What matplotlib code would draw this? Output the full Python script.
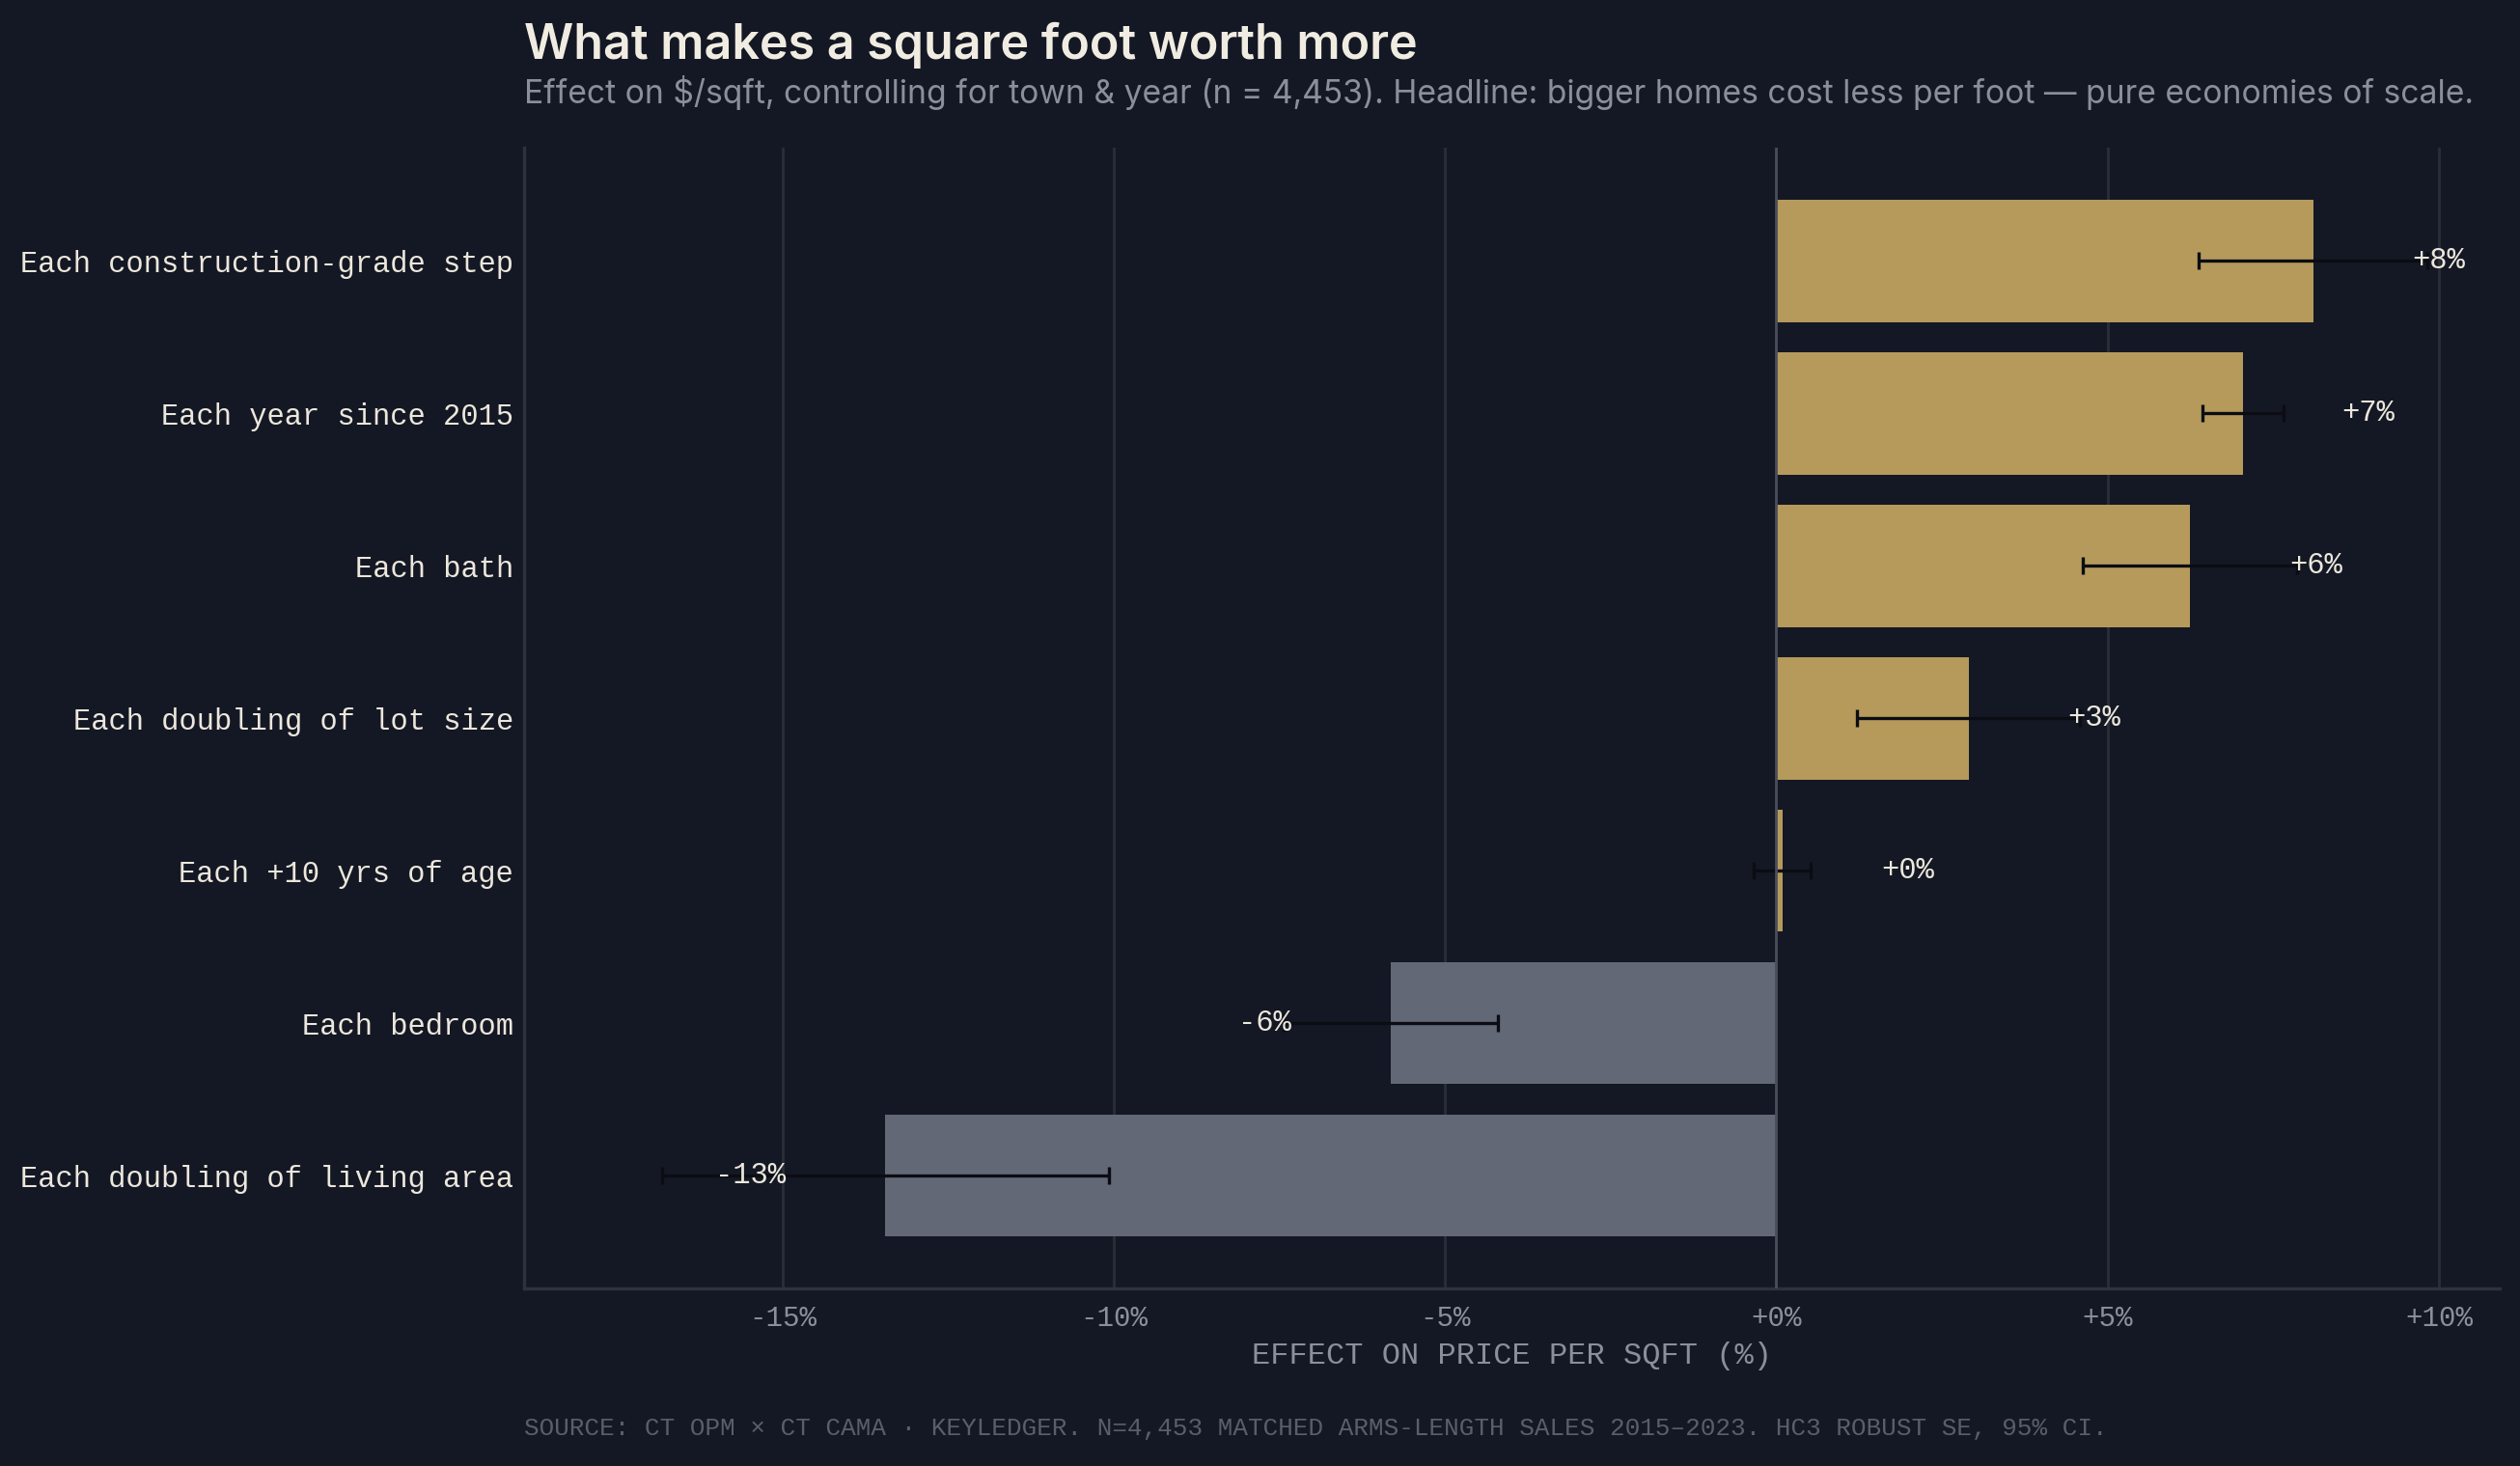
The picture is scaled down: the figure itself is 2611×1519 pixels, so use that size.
import matplotlib
matplotlib.use("Agg")
import matplotlib.pyplot as plt
from matplotlib.ticker import FuncFormatter

# datos (de arriba hacia abajo)
factors = ["Each construction-grade step", "Each year since 2015", "Each bath",
           "Each doubling of lot size", "Each +10 yrs of age", "Each bedroom",
           "Each doubling of living area"]
effect = [8.1, 7.04, 6.24, 2.9, 0.09, -5.82, -13.45]
ci_half = [1.72, 0.61, 1.62, 1.68, 0.43, 1.62, 3.37]
tick_vals = [-15, -10, -5, 0, 5, 10]

BG = "#141824"
GOLD = "#b59a5b"
SLATE = "#636877"
TXT = "#ece7dc"
MUTED = "#8b8f9c"
GRID = "#2a2e39"
MONO = "Liberation Mono"

fig = plt.figure(figsize=(13.055, 7.595), dpi=200, facecolor=BG)
ax = fig.add_axes([0.208, 0.121, 0.784, 0.778], facecolor=BG)

ypos = list(range(len(factors)))
colors = [GOLD if v >= 0 else SLATE for v in effect]

ax.barh(ypos, effect, height=0.8, color=colors, zorder=2)
ax.errorbar(effect, ypos, xerr=ci_half, fmt="none", ecolor="#0b0d13",
            elinewidth=1.2, capsize=3.4, capthick=1.2, zorder=3)

for y, v in zip(ypos, effect):
    lab = f"{v:+.0f}%"
    if v >= 0:
        ax.text(v + 1.5, y, lab, ha="left", va="center", color=TXT,
                fontsize=11, family=MONO, zorder=4)
    else:
        ax.text(v - 1.5, y, lab, ha="right", va="center", color=TXT,
                fontsize=11, family=MONO, zorder=4)

ax.set_xlim(-18.9, 10.92)
ax.invert_yaxis()
ax.set_yticks(ypos)
ax.set_yticklabels(factors, family=MONO, fontsize=11, color=TXT)
ax.set_xticks(tick_vals)
ax.xaxis.set_major_formatter(FuncFormatter(lambda x, p: f"{x:+.0f}%"))
for t in ax.get_xticklabels():
    t.set_family(MONO)
ax.tick_params(axis="x", length=0, pad=6, labelsize=10.5, labelcolor=MUTED)
ax.tick_params(axis="y", length=0, pad=4)

for t in tick_vals:
    ax.axvline(t, color="#4a4e5a" if t == 0 else GRID, lw=1.0, zorder=1 if t else 3)

for s in ["top", "right"]:
    ax.spines[s].set_visible(False)
for s in ["left", "bottom"]:
    ax.spines[s].set_color("#2e323d")
    ax.spines[s].set_linewidth(1.2)

fig.text(0.208, 0.96, "What makes a square foot worth more", family="Inter",
         fontsize=18.1, fontweight="semibold", color="#f1ece1", va="baseline")
fig.text(0.208, 0.9296,
         "Effect on $/sqft, controlling for town & year (n = 4,453). Headline: bigger homes cost less per foot \u2014 pure economies of scale.",
         family="Inter", fontsize=12.1, color=MUTED, va="baseline")
fig.text(0.208 + 0.784 / 2, 0.075, "EFFECT ON PRICE PER SQFT (%)", family=MONO,
         fontsize=11.5, color=MUTED, ha="center", va="center")
fig.text(0.208, 0.0256,
         "SOURCE: CT OPM \u00d7 CT CAMA \u00b7 KEYLEDGER. N=4,453 MATCHED ARMS-LENGTH SALES 2015\u20132023. HC3 ROBUST SE, 95% CI.",
         family=MONO, fontsize=9.36, color="#5a5e6b", va="center")

fig.savefig("out.png", dpi=200, facecolor=BG)
